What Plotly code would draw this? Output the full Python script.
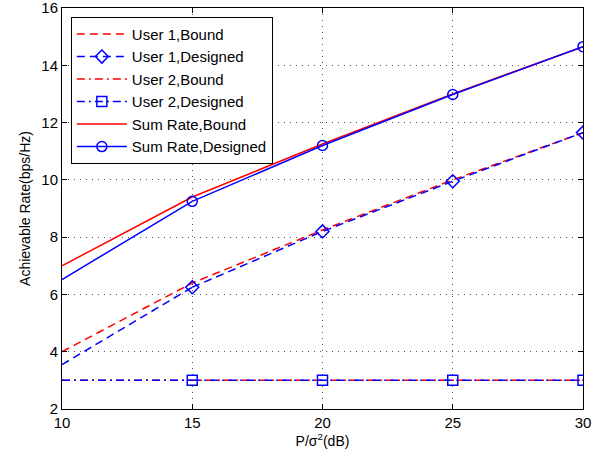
import plotly.graph_objects as go

x = [10, 15, 20, 25, 30]
user1_bound = [4.0, 6.4, 8.25, 10.0, 11.65]
user1_designed = [3.55, 6.25, 8.2, 9.95, 11.65]
user2_bound = [3.0, 3.0, 3.0, 3.0, 3.0]
user2_designed = [3.0, 3.0, 3.0, 3.0, 3.0]
sum_bound = [7.0, 9.4, 11.25, 13.0, 14.65]
sum_designed = [6.52, 9.25, 11.2, 12.98, 14.65]
x_ticks = [10, 15, 20, 25, 30]
y_ticks = [2, 4, 6, 8, 10, 12, 14, 16]

RED = "#FF0000"
BLUE = "#0000FF"
DASH = "8px,5px"
DASHDOT = "8px,4px,2px,4px"
LW = 1.5
FONT = "Liberation Sans, Arial, sans-serif"

fig = go.Figure()

def add(name, y, color, dash, symbol=None):
    if symbol is None:
        fig.add_trace(go.Scatter(x=x, y=y, name=name, mode="lines",
                                 line=dict(color=color, width=LW, dash=dash)))
    else:
        # segment before first marker (no marker at x=10)
        fig.add_trace(go.Scatter(x=x[:2], y=y[:2], mode="lines", showlegend=False,
                                 hoverinfo="skip",
                                 line=dict(color=color, width=LW, dash=dash)))
        fig.add_trace(go.Scatter(x=x[1:], y=y[1:], name=name, mode="lines+markers",
                                 line=dict(color=color, width=LW, dash=dash),
                                 marker=dict(symbol=symbol, size=10, color=color,
                                             line=dict(color=color, width=1.5))))

add("User 1,Bound", user1_bound, RED, DASH)
add("User 1,Designed", user1_designed, BLUE, DASH, "diamond-open")
add("User 2,Bound", user2_bound, RED, DASHDOT)
add("User 2,Designed", user2_designed, BLUE, DASHDOT, "square-open")
add("Sum Rate,Bound", sum_bound, RED, "solid")
add("Sum Rate,Designed", sum_designed, BLUE, "solid", "circle-open")

axis_common = dict(
    showline=True, linecolor="black", linewidth=1, mirror="ticks",
    ticks="inside", ticklen=5, tickcolor="black",
    showgrid=True, gridcolor="#555555", griddash="1px,5px", gridwidth=1,
    zeroline=False, automargin=False, ticklabeloverflow="allow",
    tickfont=dict(family=FONT, size=15, color="black"),
)

fig.update_layout(
    width=600, height=457,
    margin=dict(l=62, r=17, t=8, b=48),
    plot_bgcolor="white", paper_bgcolor="white",
    font=dict(family=FONT, size=14, color="black"),
    xaxis=dict(range=[10, 30], tickvals=x_ticks,
               title=dict(text="P/σ<sup>2</sup>(dB)", standoff=2, font=dict(size=14)),
               **axis_common),
    yaxis=dict(range=[2, 16], tickvals=y_ticks,
               title=dict(text="Achievable Rate(bps/Hz)", standoff=7, font=dict(size=14)),
               **axis_common),
    legend=dict(x=0.017, y=0.978, xanchor="left", yanchor="top",
                bgcolor="white", bordercolor="black", borderwidth=1,
                font=dict(family=FONT, size=15), tracegroupgap=0, itemwidth=50),
    showlegend=True,
)

fig.write_html("out.html", config={"displayModeBar": False},
               post_script="document.body.style.margin='0';document.body.style.padding='0';")
